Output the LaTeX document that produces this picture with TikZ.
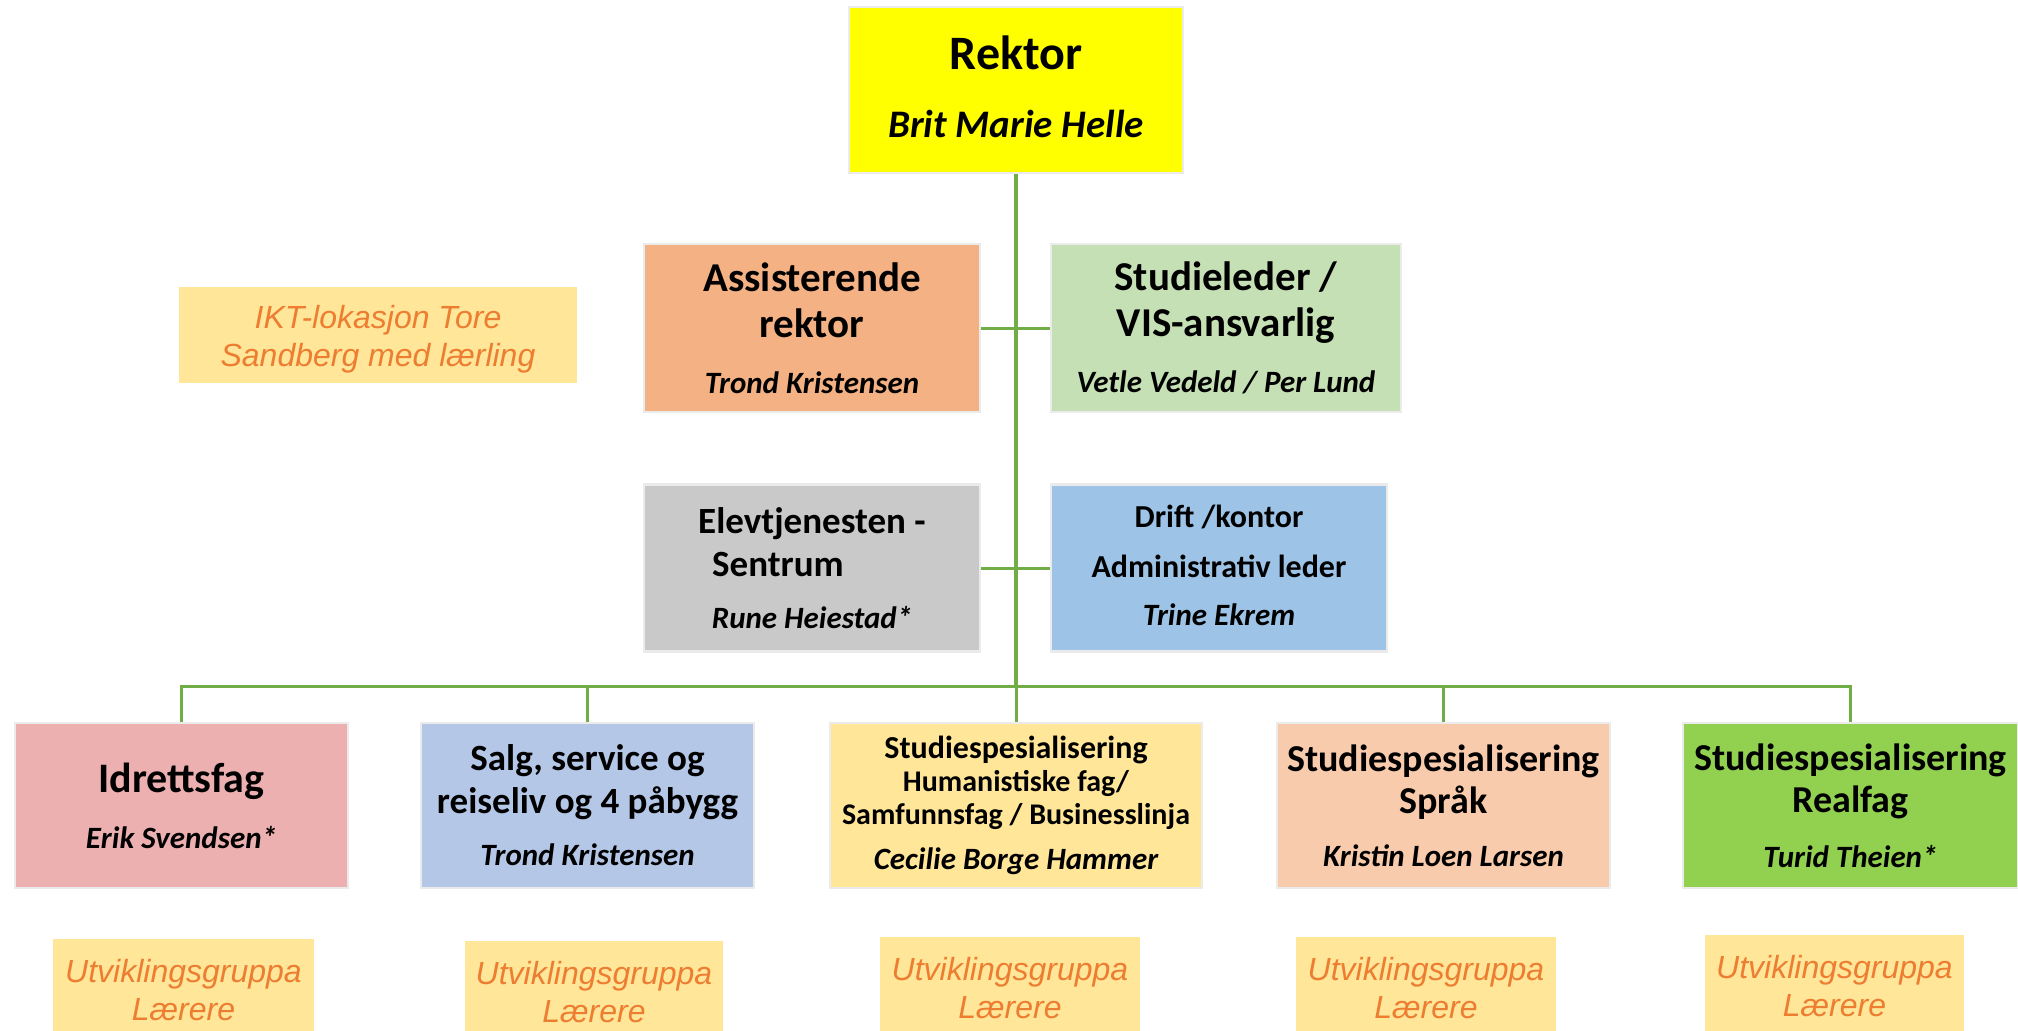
\documentclass[tikz,border=0pt]{standalone}
\usepackage{fontspec}
\setmainfont{Carlito}
\newfontfamily\arialfont{Liberation Sans}
\usetikzlibrary{
    positioning,
    calc
}
\definecolor{rektorgul}{HTML}{FFFF00}
\definecolor{assoransje}{HTML}{F4B183}
\definecolor{studgronn}{HTML}{C5E0B4}
\definecolor{elevgraa}{HTML}{C9C9C9}
\definecolor{driftblaa}{HTML}{9DC3E6}
\definecolor{idrrosa}{HTML}{ECB0B0}
\definecolor{salgblaa}{HTML}{B4C7E7}
\definecolor{lysgul}{HTML}{FFE699}
\definecolor{fersken}{HTML}{F8CBAD}
\definecolor{realgronn}{HTML}{92D050}
\definecolor{tekstoransje}{HTML}{ED7D31}
\definecolor{linjegronn}{HTML}{70AD47}

\newcommand{\sz}[1]{\fontsize{#1}{0pt}\selectfont}
\newcommand{\dyp}[1]{\rule[-#1]{0pt}{#1}}
\newcommand{\hoy}[1]{\rule{0pt}{#1}}
\newcommand{\boxfont}{\fontsize{16}{0pt}\selectfont\lineskiplimit=-100pt\relax}
\newcommand{\notefont}{\arialfont\itshape\fontsize{16}{0pt}\selectfont\lineskiplimit=-100pt\relax}

\begin{document}
\begin{tikzpicture}[
        x=0.5pt, y=-0.5pt,
        box/.style={rectangle, draw=black!8, line width=1.2pt, inner sep=0pt, align=center, font=\boxfont},
        notebox/.style={rectangle, fill=lysgul, inner sep=0pt, align=center, text=tekstoransje, font=\notefont},
        conn/.style={draw=linjegronn, line width=1.5pt},
        trunk/.style={draw=linjegronn, line width=2pt}
    ]
        \useasboundingbox (0,0) rectangle (2018,1030);
        \clip (0,0) rectangle (2018,1030);

        % Rektor
        \node[box, fill=rektorgul, minimum width=167pt, minimum height=83pt] (rektor) at (1016,90)
            {\sz{24}\bfseries Rektor\\[34pt]\sz{19.5}\bfseries\itshape Brit Marie Helle\dyp{3pt}};

        % Ledergruppe
        \node[box, fill=assoransje, minimum width=168pt, minimum height=84pt] (ass) at (812,328)
            {\sz{20.5}\bfseries Assisterende\\[23pt]\sz{20.5}\bfseries rektor\\[28pt]\sz{15.5}\bfseries\itshape Trond Kristensen};
        \node[box, fill=studgronn, minimum width=175pt, minimum height=84pt] (stud) at (1226,328)
            {\sz{20.5}\bfseries Studieleder /\\[23pt]\sz{20.5}\bfseries VIS-ansvarlig\\[28pt]\sz{15.5}\bfseries\itshape Vetle Vedeld / Per Lund};
        \node[box, fill=elevgraa, minimum width=168pt, minimum height=83.5pt] (elev) at (812,568)
            {\sz{18.5}\bfseries Elevtjenesten -\\[21.5pt]\sz{18.5}\bfseries Sentrum\rule{34pt}{0pt}\\[26pt]\sz{15.5}\bfseries\itshape Rune Heiestad*};
        \node[box, fill=driftblaa, minimum width=168pt, minimum height=83.5pt] (drift) at (1219,568)
            {\sz{16}\bfseries Drift /kontor\\[25pt]\sz{16}\bfseries Administrativ leder\\[24pt]\sz{15.5}\bfseries\itshape Trine Ekrem\dyp{2.5pt}};

        % IKT
        \node[notebox, minimum width=199pt, minimum height=48pt] (ikt) at (378,335)
            {\hoy{16pt}IKT-lokasjon Tore\\[19pt]Sandberg med lærling};

        % Programomraader
        \node[box, fill=idrrosa, minimum width=166.5pt, minimum height=82.5pt] (idr) at (181.5,805.5)
            {\sz{21}\bfseries Idrettsfag\\[28pt]\sz{15.5}\bfseries\itshape Erik Svendsen*};
        \node[box, fill=salgblaa, minimum width=166.5pt, minimum height=82.5pt] (salg) at (587.5,805.5)
            {\sz{18.5}\bfseries Salg, service og\\[21.5pt]\sz{18.5}\bfseries reiseliv og 4 påbygg\\[26pt]\sz{15.5}\bfseries\itshape Trond Kristensen};
        \node[box, fill=lysgul, minimum width=186pt, minimum height=82.5pt] (hf) at (1016,805.5)
            {\sz{16}\bfseries Studiespesialisering\\[16.5pt]\sz{15}\bfseries Humanistiske fag/\\[16.5pt]\sz{15}\bfseries Samfunnsfag / Businesslinja\\[22.5pt]\sz{15.5}\bfseries\itshape Cecilie Borge Hammer};
        \node[box, fill=fersken, minimum width=166.5pt, minimum height=82.5pt] (sprak) at (1443.5,805.5)
            {\sz{19}\bfseries Studiespesialisering\\[21pt]\sz{19}\bfseries Språk\\[26.5pt]\sz{15.5}\bfseries\itshape Kristin Loen Larsen};
        \node[box, fill=realgronn, minimum width=167.5pt, minimum height=82.5pt] (real) at (1850.5,805.5)
            {\sz{19}\bfseries Studiespesialisering\\[21pt]\sz{19}\bfseries Realfag\\[27.5pt]\sz{15.5}\bfseries\itshape Turid Theien*};

        % Utviklingsgrupper
        \node[notebox, minimum width=130.5pt, minimum height=51pt] (utv1) at (183.5,990) {Utviklingsgruppa\\[19pt]Lærere};
        \node[notebox, minimum width=129pt, minimum height=51pt] (utv2) at (594,992) {Utviklingsgruppa\\[19pt]Lærere};
        \node[notebox, minimum width=130pt, minimum height=51pt] (utv3) at (1010,988) {Utviklingsgruppa\\[19pt]Lærere};
        \node[notebox, minimum width=130pt, minimum height=51pt] (utv4) at (1426,988) {Utviklingsgruppa\\[19pt]Lærere};
        \node[notebox, minimum width=129.5pt, minimum height=51pt] (utv5) at (1834.5,986) {Utviklingsgruppa\\[19pt]Lærere};

        % Linjer
        \coordinate (buss) at (1016,686.5);
        \draw[trunk] (rektor) -- (buss);
        \draw[conn] (buss) -- (hf);
        \draw[conn] (ass) -- (stud);
        \draw[conn] (elev) -- (drift);
        \draw[conn] (idr.north) |- (buss) -| (real.north);
        \draw[conn] (salg.north) -- (salg.north |- buss);
        \draw[conn] (sprak.north) -- (sprak.north |- buss);
    \end{tikzpicture}
\end{document}
